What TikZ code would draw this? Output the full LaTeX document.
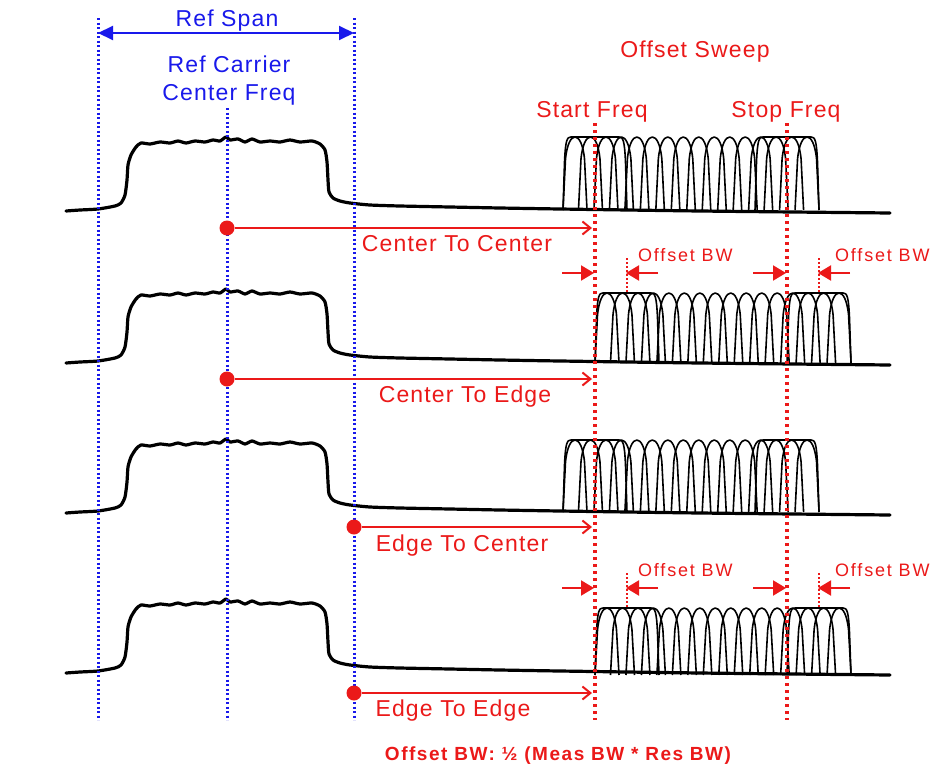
\documentclass[tikz,border=0pt]{standalone}
\usepackage{fontspec}
\setmainfont{Liberation Sans}
\newfontfamily\lblfont[LetterSpace=5]{Liberation Sans}
\newfontfamily\smlfont[LetterSpace=10]{Liberation Sans}
\newfontfamily\btmfont[LetterSpace=8]{Liberation Sans}
\usetikzlibrary{arrows.meta}
\definecolor{myred}{RGB}{235,25,25}
\definecolor{myblue}{RGB}{25,25,235}
\newcommand\carrierrow[1]{%
  \begin{scope}[shift={(0,#1)}]
  \draw[carrier] plot[smooth,tension=0.4] coordinates {(66,211) (80,210) (98,209) (115,206) (121,203) (125,195) (127,180) (128,165) (131,155) (136,147) (141,143)
   (150,144) (160,142) (170,143) (178,141) (186,143) (195,141) (205,142) (213,140) (220,141) (226,137) (230,140) (238,139) (245,142) (252,139) (260,142) (270,141) (280,142) (290,140) (300,142) (312,141) (320,144) (325,150) (327,162) (328,180) (329,192) (333,198) (340,201) (350,203) (370,205) (400,206) (450,207) (500,208) (560,209) (700,211) (890,213)};
  \end{scope}}
\newcommand\sweeprow[3]{%
  \foreach \i in {0,...,15}{%
    \pgfmathsetmacro\cc{#1+12+15.47*\i}
    \draw[filt] (\cc-12,#2) -- (\cc-9.5,#3+22) .. controls (\cc-8,#3+7) and (\cc-4,#3) .. (\cc,#3) .. controls (\cc+4,#3) and (\cc+8,#3+7) .. (\cc+9.5,#3+22) -- (\cc+12,#2);
  }
  \draw[filt] (#1,#2) -- (#1+1.5,#3+25) .. controls (#1+2.5,#3+3) and (#1+4,#3) .. (#1+8,#3) -- (#1+56,#3) .. controls (#1+60,#3) and (#1+61.5,#3+3) .. (#1+62.5,#3+25) -- (#1+64,#2);
  \draw[filt] (#1+192,#2) -- (#1+193.5,#3+25) .. controls (#1+194.5,#3+3) and (#1+196,#3) .. (#1+200,#3) -- (#1+248,#3) .. controls (#1+252,#3) and (#1+253.5,#3+3) .. (#1+254.5,#3+25) -- (#1+256,#2);
}
\begin{document}
\begin{tikzpicture}[x=1pt,y=-1pt,
  carrier/.style={line width=3.2pt, line join=round, line cap=round},
  filt/.style={line width=1.6pt, line join=round},
  bluedot/.style={myblue, line width=3pt, dash pattern=on 2pt off 2.5pt},
  reddot/.style={myred, line width=3.5pt, dash pattern=on 3pt off 4pt},
  conn/.style={myred, line width=2pt, -{Straight Barb[length=8pt,width=13pt,line width=2pt]}},
  bwarrow/.style={myred, line width=2pt, -{Triangle[length=13pt,width=15pt]}},
  spanarrow/.style={myblue, line width=2pt, {Triangle[length=15pt,width=14pt]}-{Triangle[length=15pt,width=14pt]}},
  bigtxt/.style={font=\lblfont\fontsize{23}{26}\selectfont, anchor=base, inner sep=0pt},
  smltxt/.style={font=\smlfont\fontsize{18}{20}\selectfont, anchor=base west, inner sep=0pt, text=myred},
  dotnode/.style={circle, fill=myred, minimum size=15pt, inner sep=0pt}]
\useasboundingbox (0,0) rectangle (944,771);
\fill[white] (0,0) rectangle (944,771);

% carriers
\carrierrow{0}
\carrierrow{152}
\carrierrow{302}
\carrierrow{462}

% sweeps
\sweeprow{563}{210}{137}
\sweeprow{595}{363}{293}
\sweeprow{563}{512}{440}
\sweeprow{595}{675}{608}

% blue reference lines
\coordinate (bl1) at (98,18);  \coordinate (bl2) at (98,720);
\coordinate (bc1) at (227,108); \coordinate (bc2) at (227,720);
\coordinate (br1) at (354,18); \coordinate (br2) at (354,720);
\draw[bluedot] (bl1) -- (bl2);
\draw[bluedot] (bc1) -- (bc2);
\draw[bluedot] (br1) -- (br2);
\coordinate (sa) at (98,33); \coordinate (sb) at (354,33);
\draw[spanarrow] (sa) -- (sb);
\node[bigtxt, text=myblue] (refspan) at (227,27) {Ref Span};
\node[bigtxt, text=myblue] (refcar) at (229,72) {Ref Carrier};
\node[bigtxt, text=myblue] (cfreq) at (229,100) {Center Freq};

% red sweep lines
\coordinate (rs1) at (595,123); \coordinate (rs2) at (595,720);
\coordinate (rt1) at (787,123); \coordinate (rt2) at (787,720);
\draw[reddot] (rs1) -- (rs2);
\draw[reddot] (rt1) -- (rt2);
\node[bigtxt, text=myred] (osweep) at (695,57) {Offset Sweep};
\node[bigtxt, text=myred] (startf) at (592,117) {Start Freq};
\node[bigtxt, text=myred] (stopf) at (786,117) {Stop Freq};

% connectors
\node[dotnode] (d1) at (227,228) {}; \coordinate (e1) at (592,228);
\node[dotnode] (d2) at (227,379) {}; \coordinate (e2) at (592,379);
\node[dotnode] (d3) at (354,527) {}; \coordinate (e3) at (592,527);
\node[dotnode] (d4) at (354,693) {}; \coordinate (e4) at (592,693);
\draw[conn] (d1) -- (e1);
\draw[conn] (d2) -- (e2);
\draw[conn] (d3) -- (e3);
\draw[conn] (d4) -- (e4);
\node[bigtxt, text=myred] (t1) at (457,251) {Center To Center};
\node[bigtxt, text=myred] (t2) at (465,402) {Center To Edge};
\node[bigtxt, text=myred] (t3) at (462,551) {Edge To Center};
\node[bigtxt, text=myred] (t4) at (453,716) {Edge To Edge};

% offset BW row 2
\coordinate (o2a) at (562,273); \coordinate (o2b) at (594,273);
\coordinate (o2c) at (658,273); \coordinate (o2d) at (626,273);
\coordinate (o2e) at (753,273); \coordinate (o2f) at (786,273);
\coordinate (o2g) at (850,273); \coordinate (o2h) at (818,273);
\draw[bwarrow] (o2a) -- (o2b);
\draw[bwarrow] (o2c) -- (o2d);
\draw[bwarrow] (o2e) -- (o2f);
\draw[bwarrow] (o2g) -- (o2h);
\coordinate (v2a) at (627,258); \coordinate (v2b) at (627,294);
\coordinate (v2c) at (819,258); \coordinate (v2d) at (819,294);
\draw[myred, line width=2pt, dash pattern=on 2pt off 2pt] (v2a) -- (v2b);
\draw[myred, line width=2pt, dash pattern=on 2pt off 2pt] (v2c) -- (v2d);
\node[smltxt] (ob1) at (638,261) {Offset BW};
\node[smltxt] (ob2) at (835,261) {Offset BW};

% offset BW row 4
\coordinate (o4a) at (562,588); \coordinate (o4b) at (594,588);
\coordinate (o4c) at (658,588); \coordinate (o4d) at (626,588);
\coordinate (o4e) at (753,588); \coordinate (o4f) at (786,588);
\coordinate (o4g) at (850,588); \coordinate (o4h) at (818,588);
\draw[bwarrow] (o4a) -- (o4b);
\draw[bwarrow] (o4c) -- (o4d);
\draw[bwarrow] (o4e) -- (o4f);
\draw[bwarrow] (o4g) -- (o4h);
\coordinate (v4a) at (627,573); \coordinate (v4b) at (627,609);
\coordinate (v4c) at (819,573); \coordinate (v4d) at (819,609);
\draw[myred, line width=2pt, dash pattern=on 2pt off 2pt] (v4a) -- (v4b);
\draw[myred, line width=2pt, dash pattern=on 2pt off 2pt] (v4c) -- (v4d);
\node[smltxt] (ob3) at (638,576) {Offset BW};
\node[smltxt] (ob4) at (835,576) {Offset BW};

% footnote
\node[font=\btmfont\bfseries\fontsize{19}{21}\selectfont, text=myred, anchor=base, inner sep=0pt] (foot) at (558,760) {Offset BW: ½ (Meas BW * Res BW)};
\end{tikzpicture}
\end{document}
